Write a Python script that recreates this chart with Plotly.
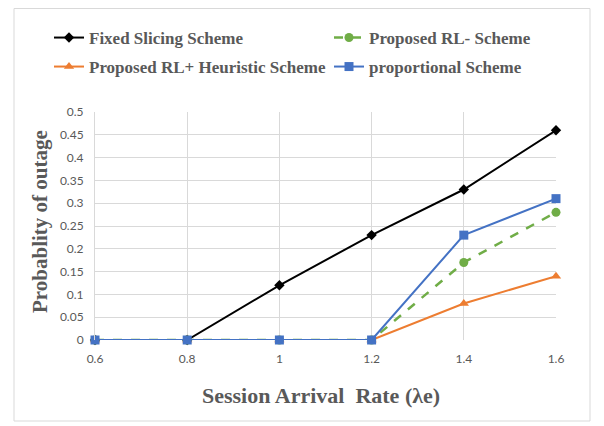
import plotly.graph_objects as go

x_vals = [0.6, 0.8, 1.0, 1.2, 1.4, 1.6]
fixed = [0, 0, 0.12, 0.23, 0.33, 0.46]
rl_minus = [0, 0, 0, 0, 0.17, 0.28]
rl_heur = [0, 0, 0, 0, 0.08, 0.14]
proportional = [0, 0, 0, 0, 0.23, 0.31]
y_ticks = [0, 0.05, 0.1, 0.15, 0.2, 0.25, 0.3, 0.35, 0.4, 0.45, 0.5]
y_tick_text = ["0", "0.05", "0.1", "0.15", "0.2", "0.25", "0.3", "0.35", "0.4", "0.45", "0.5"]
x_ticks = [0.6, 0.8, 1.0, 1.2, 1.4, 1.6]
x_tick_text = ["0.6", "0.8", "1", "1.2", "1.4", "1.6"]

fig = go.Figure()
fig.add_trace(go.Scatter(x=x_vals, y=fixed, name="<b>Fixed Slicing Scheme</b>", mode="lines+markers",
                         line=dict(color="#000000", width=2), marker=dict(symbol="diamond", size=8),
                         cliponaxis=False, legend="legend"))
fig.add_trace(go.Scatter(x=x_vals, y=rl_minus, name="<b>Proposed RL- Scheme</b>", mode="lines+markers",
                         line=dict(color="#70AD47", width=2.5, dash="dash"), marker=dict(symbol="circle", size=9),
                         cliponaxis=False, legend="legend2"))
fig.add_trace(go.Scatter(x=x_vals, y=rl_heur, name="<b>Proposed RL+ Heuristic Scheme</b>", mode="lines+markers",
                         line=dict(color="#ED7D31", width=2), marker=dict(symbol="triangle-up", size=9),
                         cliponaxis=False, legend="legend3"))
fig.add_trace(go.Scatter(x=x_vals, y=proportional, name="<b>proportional Scheme</b>", mode="lines+markers",
                         line=dict(color="#4472C4", width=2), marker=dict(symbol="square", size=9),
                         cliponaxis=False, legend="legend4"))

# page has an 8px body margin; figure pixel = reference pixel - 8
W, H = 596, 418
L, R, T, B = 87, 48, 104, 86
pw, ph = W - L - R, H - T - B

def px(xr):
    return (xr - 8 - L) / pw

def py(yr):
    return (H - B - (yr - 8)) / ph

legend_font = dict(family="Liberation Serif", size=17, color="#595959")

def leg(xr, yr):
    return dict(x=px(xr), y=py(yr), xanchor="left", yanchor="middle", font=legend_font,
                bgcolor="rgba(0,0,0,0)", itemwidth=30)

tick_font = dict(family="Lato", size=12, color="#595959")
fig.update_layout(
    width=W, height=H,
    margin=dict(l=L, r=R, t=T, b=B),
    paper_bgcolor="white", plot_bgcolor="white",
    showlegend=True,
    legend=leg(49, 38), legend2=leg(329, 38), legend3=leg(49, 67), legend4=leg(329, 67),
    xaxis=dict(range=[0.6, 1.6], tickvals=x_ticks, ticktext=x_tick_text,
               showgrid=True, gridcolor="#d9d9d9", gridwidth=1, zeroline=False,
               showline=False, ticks="", tickfont=tick_font, ticklabelstandoff=10),
    yaxis=dict(range=[0, 0.5], tickvals=y_ticks, ticktext=y_tick_text, showgrid=True,
               gridcolor="#d9d9d9", gridwidth=1, zeroline=False, showline=True,
               linecolor="#d9d9d9", ticks="", tickfont=tick_font, ticklabelstandoff=8),
    annotations=[
        dict(text="<b>Session Arrival  Rate (λe)</b>", xref="paper", yref="paper",
             x=px(321), y=py(395), xanchor="center", yanchor="middle", showarrow=False,
             font=dict(family="Liberation Serif", size=22, color="#595959")),
        dict(text="<b>Probablity of outage</b>", xref="paper", yref="paper", textangle=-90,
             x=px(40), y=py(222), xanchor="center", yanchor="middle", showarrow=False,
             font=dict(family="Liberation Serif", size=21, color="#595959")),
    ],
    shapes=[dict(type="rect", xref="paper", yref="paper", x0=px(14), x1=px(590), y0=py(421), y1=py(8.5),
                 line=dict(color="#d9d9d9", width=1), fillcolor="rgba(0,0,0,0)", layer="below")],
)

fig.write_html("out.html")
